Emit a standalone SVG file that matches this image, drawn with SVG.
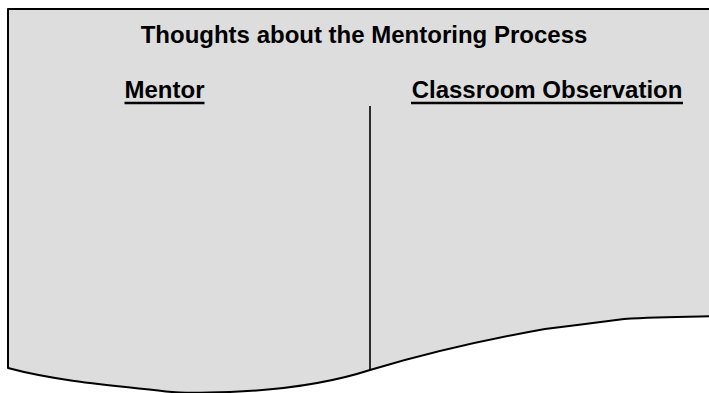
<svg xmlns="http://www.w3.org/2000/svg" width="709" height="393" viewBox="0 0 709 393">
  <style>
    .t { font-family: "Liberation Sans", Arial, sans-serif; font-weight: bold; font-size: 24px; fill: #000; text-anchor: middle; }
    .ul { stroke: #000; stroke-width: 2.6; }
  </style>
  <rect width="709" height="393" fill="#ffffff"/>
  <g id="document">
    <path d="M8,9 L720,9 L720,316 L700,316.5 C670,317 640,318 624,319 C600,322 570,326 545,329 C500,337 440,349 370,370 C330,383 280,390 230,392 C200,393 180,393 172,392 C120,386 60,382 8,368 Z" fill="#dddddd" stroke="#000" stroke-width="2" stroke-linejoin="round"/>
  </g>
  <g id="title">
    <text class="t" x="364" y="43">Thoughts about the Mentoring Process</text>
  </g>
  <g id="mentor">
    <text class="t" x="164.5" y="98">Mentor</text>
    <line class="ul" x1="124.5" y1="103" x2="204.5" y2="103"/>
  </g>
  <g id="classroom-observation">
    <text class="t" x="547" y="98">Classroom Observation</text>
    <line class="ul" x1="411" y1="103" x2="683" y2="103"/>
  </g>
  <g id="connectors">
    <line x1="370" y1="106" x2="370" y2="370" stroke="#000" stroke-width="1.6"/>
  </g>
</svg>
